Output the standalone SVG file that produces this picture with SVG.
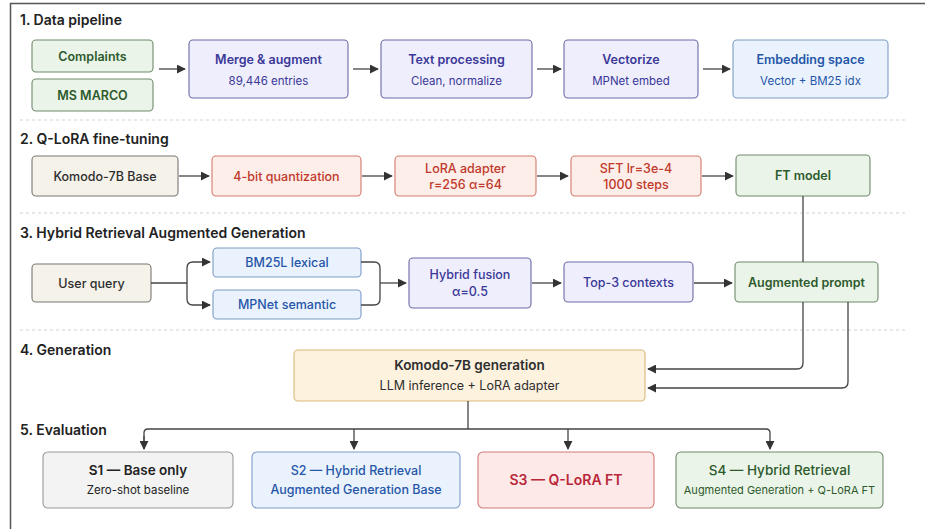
<svg xmlns="http://www.w3.org/2000/svg" width="925" height="529" viewBox="0 0 925 529">
  <defs>
    <marker id="arrow" viewBox="0 0 10 10" refX="9" refY="5" markerWidth="9" markerHeight="9" markerUnits="userSpaceOnUse" orient="auto">
      <path d="M0,0 L10,5 L0,10 z" fill="#333"/>
    </marker>
    <style>
      text { font-family: Inter, "Noto Sans", "Liberation Sans", sans-serif; text-anchor: middle; }
      .sec { font-size: 14px; font-weight: 600; fill: #222; text-anchor: start; }
      .t { font-size: 12.5px; font-weight: 600; }
      .s { font-size: 11.5px; font-weight: 400; }
      .box { stroke-width: 1.1; }
      .green rect { fill: #ebf4e8; stroke: #6f8a6c; }
      .green text { fill: #2d5a2d; }
      .lav rect { fill: #efeefc; stroke: #6c6aa6; }
      .lav text { fill: #3a3898; }
      .blue rect { fill: #eaf2fd; stroke: #7c9cc6; }
      .blue text { fill: #2656a8; }
      .beige rect { fill: #f5f2ea; stroke: #7a7670; }
      .beige text { fill: #2e2e2e; }
      .red rect { fill: #fdeee9; stroke: #d47a6c; }
      .red text { fill: #c0392b; }
      .pink rect { fill: #fde9e8; stroke: #d47a78; }
      .pink text { fill: #b8283a; }
      .peach rect { fill: #fdf2de; stroke: #d8b878; }
      .peach text { fill: #2e2e2e; }
      .gray rect { fill: #f3f3f3; stroke: #9a9a9a; }
      .gray text { fill: #222; }
      .sep { stroke: #d2d2d2; stroke-width: 1; stroke-dasharray: 3 3; }
      .conn path { fill: none; stroke: #444; stroke-width: 1.3; }
    </style>
  </defs>

  <rect width="925" height="529" fill="#ffffff"/>
  <!-- outer frame -->
  <path d="M10.5,529 V3.5 H925" fill="none" stroke="#555" stroke-width="1.5"/>

  <!-- section headings -->
  <text class="sec" x="20" y="25">1. Data pipeline</text>
  <text class="sec" x="20" y="144">2. Q-LoRA fine-tuning</text>
  <text class="sec" x="20" y="238">3. Hybrid Retrieval Augmented Generation</text>
  <text class="sec" x="20" y="355">4. Generation</text>
  <text class="sec" x="20" y="435">5. Evaluation</text>

  <!-- separators -->
  <line class="sep" x1="20" y1="120" x2="908" y2="120"/>
  <line class="sep" x1="20" y1="213" x2="908" y2="213"/>
  <line class="sep" x1="20" y1="330" x2="908" y2="330"/>

  <!-- 1. data pipeline -->
  <g id="complaints" class="green">
    <rect class="box" x="32" y="40" width="121" height="32" rx="4"/>
    <text class="t" x="92.5" y="60.5">Complaints</text>
  </g>
  <g id="msmarco" class="green">
    <rect class="box" x="32" y="79" width="121" height="32" rx="4"/>
    <text class="t" x="92.5" y="99.5">MS MARCO</text>
  </g>
  <g id="merge" class="lav">
    <rect class="box" x="189" y="40" width="159" height="58" rx="4"/>
    <text class="t" x="268.5" y="64">Merge &amp; augment</text>
    <text class="s" x="268.5" y="85">89,446 entries</text>
  </g>
  <g id="textproc" class="lav">
    <rect class="box" x="381" y="40" width="151" height="58" rx="4"/>
    <text class="t" x="456.5" y="64">Text processing</text>
    <text class="s" x="456.5" y="85">Clean, normalize</text>
  </g>
  <g id="vectorize" class="lav">
    <rect class="box" x="564" y="40" width="134" height="58" rx="4"/>
    <text class="t" x="631" y="64">Vectorize</text>
    <text class="s" x="631" y="85">MPNet embed</text>
  </g>
  <g id="embedding" class="blue">
    <rect class="box" x="733" y="40" width="155" height="58" rx="4"/>
    <text class="t" x="810.5" y="64">Embedding space</text>
    <text class="s" x="810.5" y="85">Vector + BM25 idx</text>
  </g>

  <!-- 2. Q-LoRA -->
  <g id="komodobase" class="beige">
    <rect class="box" x="32" y="156" width="146" height="40" rx="4"/>
    <text class="t" x="105" y="180.5" style="font-weight:500">Komodo-7B Base</text>
  </g>
  <g id="quant" class="red">
    <rect class="box" x="212" y="156" width="149" height="40" rx="4"/>
    <text class="t" x="286.5" y="180.5" style="font-weight:500">4-bit quantization</text>
  </g>
  <g id="lora" class="red">
    <rect class="box" x="395" y="156" width="141" height="40" rx="4"/>
    <text class="t" x="465.5" y="173" style="font-weight:500">LoRA adapter</text>
    <text class="t" x="465.5" y="189" style="font-weight:500">r=256 α=64</text>
  </g>
  <g id="sft" class="red">
    <rect class="box" x="571" y="156" width="130" height="40" rx="4"/>
    <text class="t" x="636" y="173" style="font-weight:500">SFT lr=3e-4</text>
    <text class="t" x="636" y="189" style="font-weight:500">1000 steps</text>
  </g>
  <g id="ftmodel" class="green">
    <rect class="box" x="736" y="155" width="134" height="41" rx="4"/>
    <text class="t" x="803" y="180">FT model</text>
  </g>

  <!-- 3. Hybrid retrieval -->
  <g id="userquery" class="beige">
    <rect class="box" x="32" y="264" width="119" height="38" rx="4"/>
    <text class="t" x="91.5" y="287.5" style="font-weight:500">User query</text>
  </g>
  <g id="bm25" class="blue">
    <rect class="box" x="213" y="248" width="148" height="29" rx="4"/>
    <text class="t" x="287" y="267" style="font-weight:500">BM25L lexical</text>
  </g>
  <g id="mpnet" class="blue">
    <rect class="box" x="213" y="290" width="148" height="29" rx="4"/>
    <text class="t" x="287" y="309" style="font-weight:500">MPNet semantic</text>
  </g>
  <g id="fusion" class="lav">
    <rect class="box" x="409" y="258" width="122" height="50" rx="4"/>
    <text class="t" x="470" y="279" style="font-weight:500">Hybrid fusion</text>
    <text class="t" x="470" y="296" style="font-weight:500">α=0.5</text>
  </g>
  <g id="top3" class="lav">
    <rect class="box" x="564" y="262" width="129" height="40" rx="4"/>
    <text class="t" x="628.5" y="286.5" style="font-weight:500">Top-3 contexts</text>
  </g>
  <g id="augprompt" class="green">
    <rect class="box" x="735" y="262" width="143" height="40" rx="4"/>
    <text class="t" x="806.5" y="286.5">Augmented prompt</text>
  </g>

  <!-- 4. Generation -->
  <g id="generation" class="peach">
    <rect class="box" x="294" y="350" width="351" height="51" rx="4"/>
    <text class="t" x="469.5" y="370" style="font-size:13.5px">Komodo-7B generation</text>
    <text class="s" x="469.5" y="390" style="font-size:12.5px">LLM inference + LoRA adapter</text>
  </g>

  <!-- 5. Evaluation -->
  <g id="s1" class="gray">
    <rect class="box" x="43" y="452" width="190" height="56" rx="5"/>
    <text class="t" x="138" y="475" style="font-size:13.5px">S1 — Base only</text>
    <text class="s" x="138" y="494">Zero-shot baseline</text>
  </g>
  <g id="s2" class="blue">
    <rect class="box" x="252" y="452" width="208" height="56" rx="5"/>
    <text class="t" x="356" y="475" style="font-weight:500;font-size:12.5px">S2 — Hybrid Retrieval</text>
    <text class="t" x="356" y="494" style="font-weight:500;font-size:12.5px">Augmented Generation Base</text>
  </g>
  <g id="s3" class="pink">
    <rect class="box" x="478" y="452" width="176" height="56" rx="5"/>
    <text class="t" x="566" y="485" style="font-size:14px">S3 — Q-LoRA FT</text>
  </g>
  <g id="s4" class="green">
    <rect class="box" x="676" y="452" width="207" height="56" rx="5"/>
    <text class="t" x="779.5" y="475" style="font-weight:500;font-size:13.5px">S4 — Hybrid Retrieval</text>
    <text class="s" x="779.5" y="494" style="font-size:11px">Augmented Generation + Q-LoRA FT</text>
  </g>

  <!-- connectors -->
  <g id="connectors" class="conn">
    <!-- data pipeline -->
    <path d="M159,69 H185" marker-end="url(#arrow)"/>
    <path d="M353,69 H378" marker-end="url(#arrow)"/>
    <path d="M537,69 H561" marker-end="url(#arrow)"/>
    <path d="M703,69 H730" marker-end="url(#arrow)"/>
    <!-- fine-tuning chain -->
    <path d="M179,176 H209" marker-end="url(#arrow)"/>
    <path d="M362,176 H392" marker-end="url(#arrow)"/>
    <path d="M537,176 H568" marker-end="url(#arrow)"/>
    <path d="M702,176 H733" marker-end="url(#arrow)"/>
    <!-- query fork -->
    <path d="M151,283 H187"/>
    <path d="M187,283 V268 Q187,262 193,262 H210" marker-end="url(#arrow)"/>
    <path d="M187,283 V299 Q187,305 193,305 H210" marker-end="url(#arrow)"/>
    <!-- retrieval merge -->
    <path d="M361,262 H374 Q380,262 380,268 V283"/>
    <path d="M361,305 H374 Q380,305 380,299 V283"/>
    <path d="M380,283 H406" marker-end="url(#arrow)"/>
    <path d="M532,283 H561" marker-end="url(#arrow)"/>
    <path d="M694,283 H732" marker-end="url(#arrow)"/>
    <!-- FT model and prompt into generation -->
    <path d="M803,196 V262"/>
    <path d="M803,302 V363 Q803,369 797,369 H648" marker-end="url(#arrow)"/>
    <path d="M848,302 V382 Q848,388 842,388 H648" marker-end="url(#arrow)"/>
    <!-- generation to evaluation -->
    <path d="M468,401 V429"/>
    <path d="M144,449 V433 Q144,429 148,429 H766 Q770,429 770,433 V449" marker-end="url(#arrow)"/>
    <path d="M144,436 V449" marker-end="url(#arrow)"/>
    <path d="M354,429 V449" marker-end="url(#arrow)"/>
    <path d="M568,429 V449" marker-end="url(#arrow)"/>
  </g>
</svg>
